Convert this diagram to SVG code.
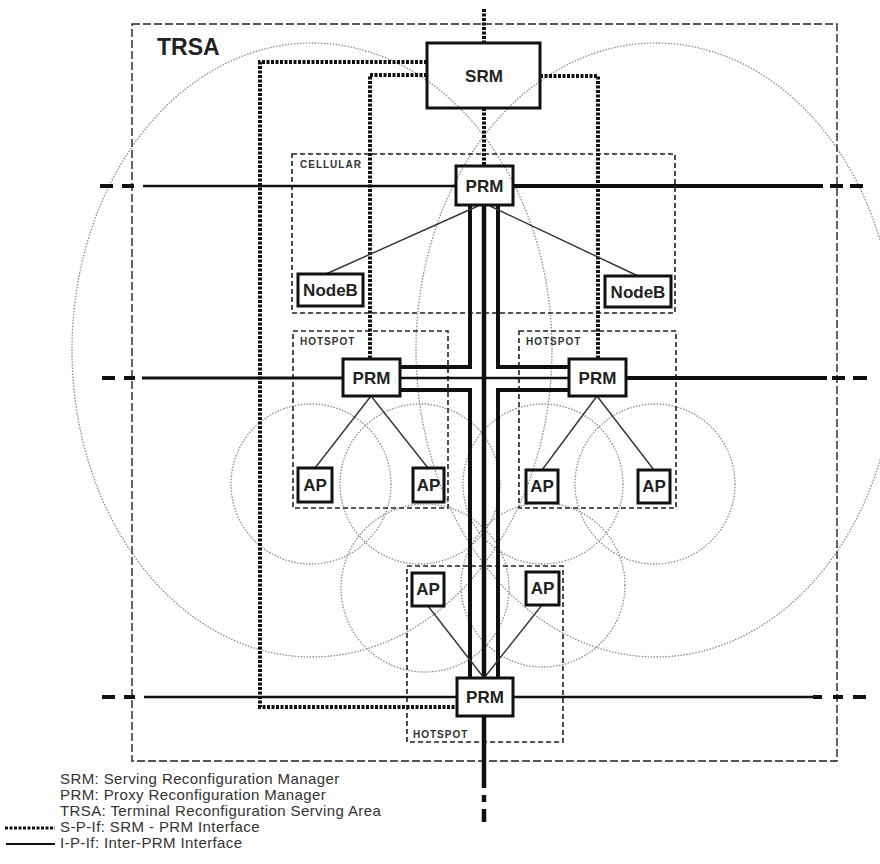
<svg xmlns="http://www.w3.org/2000/svg" width="880" height="864" viewBox="0 0 880 864">
<style>
.cell{fill:none;stroke:#8a8a8a;stroke-width:1.3;stroke-dasharray:1.5 1.5}
.area{fill:none;stroke:#222;stroke-width:1.6;stroke-dasharray:5 3}
.trsa{fill:none;stroke:#222;stroke-width:1.4;stroke-dasharray:8 3}
.box{fill:none;stroke:#111;stroke-width:3}
.lbl{font-family:"Liberation Sans",Arial,sans-serif;font-weight:bold;fill:#222;text-anchor:middle}
.small{font-family:"Liberation Sans",Arial,sans-serif;font-weight:bold;font-size:10px;letter-spacing:1px;fill:#333}
.sp{fill:none;stroke:#111;stroke-width:4;stroke-dasharray:3 1.5}
.ip{fill:none;stroke:#111;stroke-width:4}
.ipt{fill:none;stroke:#111;stroke-width:2.5}
.tree{fill:none;stroke:#333;stroke-width:1.4}
.leg{font-family:"Liberation Sans",Arial,sans-serif;font-size:15px;letter-spacing:0.4px;fill:#333}
</style>
<rect width="880" height="864" fill="#fff"/>
<g id="cells">
<ellipse class="cell" cx="312" cy="350" rx="240" ry="307"/>
<ellipse class="cell" cx="656" cy="350" rx="240" ry="307"/>
<circle class="cell" cx="311" cy="484" r="80"/>
<circle class="cell" cx="420" cy="484" r="80"/>
<circle class="cell" cx="543" cy="484" r="80"/>
<circle class="cell" cx="655" cy="484" r="80"/>
<circle class="cell" cx="425" cy="588" r="84"/>
<circle class="cell" cx="543" cy="585" r="82"/>
</g>
<g id="areas">
<rect class="trsa" x="132" y="24" width="705" height="737"/>
<text x="157" y="55" font-family="Liberation Sans,Arial,sans-serif" font-weight="bold" font-size="23" fill="#222">TRSA</text>
<rect class="area" x="292" y="154" width="383" height="159"/>
<text class="small" x="300" y="168">CELLULAR</text>
<rect class="area" x="293" y="331" width="155" height="177"/>
<text class="small" x="300" y="345">HOTSPOT</text>
<rect class="area" x="519" y="331" width="157" height="177"/>
<text class="small" x="526" y="345">HOTSPOT</text>
<rect class="area" x="407" y="566" width="156" height="176"/>
<text class="small" x="413" y="738">HOTSPOT</text>
</g>
<g id="connectors">
<path class="sp" d="M427,62 H260 V707 H457"/>
<path class="sp" d="M427,75 H370 V359"/>
<path class="sp" d="M540,76 H598 V359"/>
<path class="sp" d="M484,9 V43"/>
<path class="sp" d="M484,108 V166"/>
<path class="ipt" d="M143,186 H456"/>
<path class="ip" d="M100,186 H113 M122,186 H134"/>
<path class="ip" d="M513,186 H823 M830,186 H843 M850,186 H863"/>
<path class="ipt" d="M142,378 H343" style="stroke-width:3"/>
<path class="ip" d="M102,378 H115 M124,378 H135"/>
<path class="ip" d="M626,378 H827 M832,378 H845 M853,378 H867"/>
<path class="ipt" d="M144,697 H457"/>
<path class="ip" d="M102,697 H115 M124,697 H135"/>
<path class="ipt" d="M513,697 H813"/>
<path class="ip" d="M813,697 H822 M833,697 H843 M853,697 H866"/>
<path class="ip" d="M470,205 V367 H400"/>
<path class="ip" d="M400,390 H470 V678"/>
<path class="ip" d="M498,205 V367 H569"/>
<path class="ip" d="M569,390 H498 V678"/>
<path class="ip" d="M484,205 V678" style="stroke-width:4.5"/>
<path class="ipt" d="M400,378 H569"/>
<path class="ip" d="M484,716 V788 M484,795 V802 M484,809 V822" style="stroke-width:4.5"/>
<path class="tree" d="M478,206 L326,274 M490,206 L638,276"/>
<path class="tree" d="M371,396 L315,468 M371,396 L428,468"/>
<path class="tree" d="M597,396 L542,470 M597,396 L654,470"/>
<path class="tree" d="M428,606 L484,678 M542,605 L484,678"/>
</g>
<g id="srm"><rect class="box" x="427" y="43" width="113" height="65"/><text class="lbl" x="484" y="82" font-size="17">SRM</text></g>
<g id="prm-cellular"><rect class="box" x="456" y="166" width="57" height="39" fill="#fff"/><text class="lbl" x="484.5" y="192" font-size="17">PRM</text></g>
<g id="prm-hotspot-left"><rect class="box" x="343" y="359" width="57" height="37"/><text class="lbl" x="371.5" y="384" font-size="17">PRM</text></g>
<g id="prm-hotspot-right"><rect class="box" x="569" y="359" width="57" height="37"/><text class="lbl" x="597.5" y="384" font-size="17">PRM</text></g>
<g id="prm-hotspot-bottom"><rect class="box" x="457" y="678" width="56" height="38" fill="#fff"/><text class="lbl" x="485" y="703" font-size="17">PRM</text></g>
<g id="nodeb-left"><rect class="box" x="298" y="274" width="65" height="32"/><text class="lbl" x="330.5" y="296" font-size="17">NodeB</text></g>
<g id="nodeb-right"><rect class="box" x="605" y="276" width="66" height="31"/><text class="lbl" x="638" y="298" font-size="17">NodeB</text></g>
<g id="ap1"><rect class="box" x="298" y="468" width="34" height="34"/><text class="lbl" x="315" y="491" font-size="17">AP</text></g>
<g id="ap2"><rect class="box" x="413" y="468" width="31" height="34"/><text class="lbl" x="428.5" y="491" font-size="17">AP</text></g>
<g id="ap3"><rect class="box" x="526" y="470" width="32" height="33"/><text class="lbl" x="542" y="492" font-size="17">AP</text></g>
<g id="ap4"><rect class="box" x="638" y="470" width="32" height="33"/><text class="lbl" x="654" y="492" font-size="17">AP</text></g>
<g id="ap5"><rect class="box" x="412" y="573" width="32" height="33"/><text class="lbl" x="428" y="595" font-size="17">AP</text></g>
<g id="ap6"><rect class="box" x="526" y="572" width="33" height="33"/><text class="lbl" x="542.5" y="594" font-size="17">AP</text></g>
<g id="legend">
<text class="leg" x="60" y="784">SRM: Serving Reconfiguration Manager</text>
<text class="leg" x="60" y="800">PRM: Proxy Reconfiguration Manager</text>
<text class="leg" x="60" y="816">TRSA: Terminal Reconfiguration Serving Area</text>
<text class="leg" x="60" y="832">S-P-If: SRM - PRM Interface</text>
<text class="leg" x="60" y="848">I-P-If: Inter-PRM Interface</text>
<path class="sp" d="M5,828 H55" style="stroke-width:3"/>
<path d="M6,844 H55" stroke="#111" stroke-width="2"/>
</g>
</svg>
